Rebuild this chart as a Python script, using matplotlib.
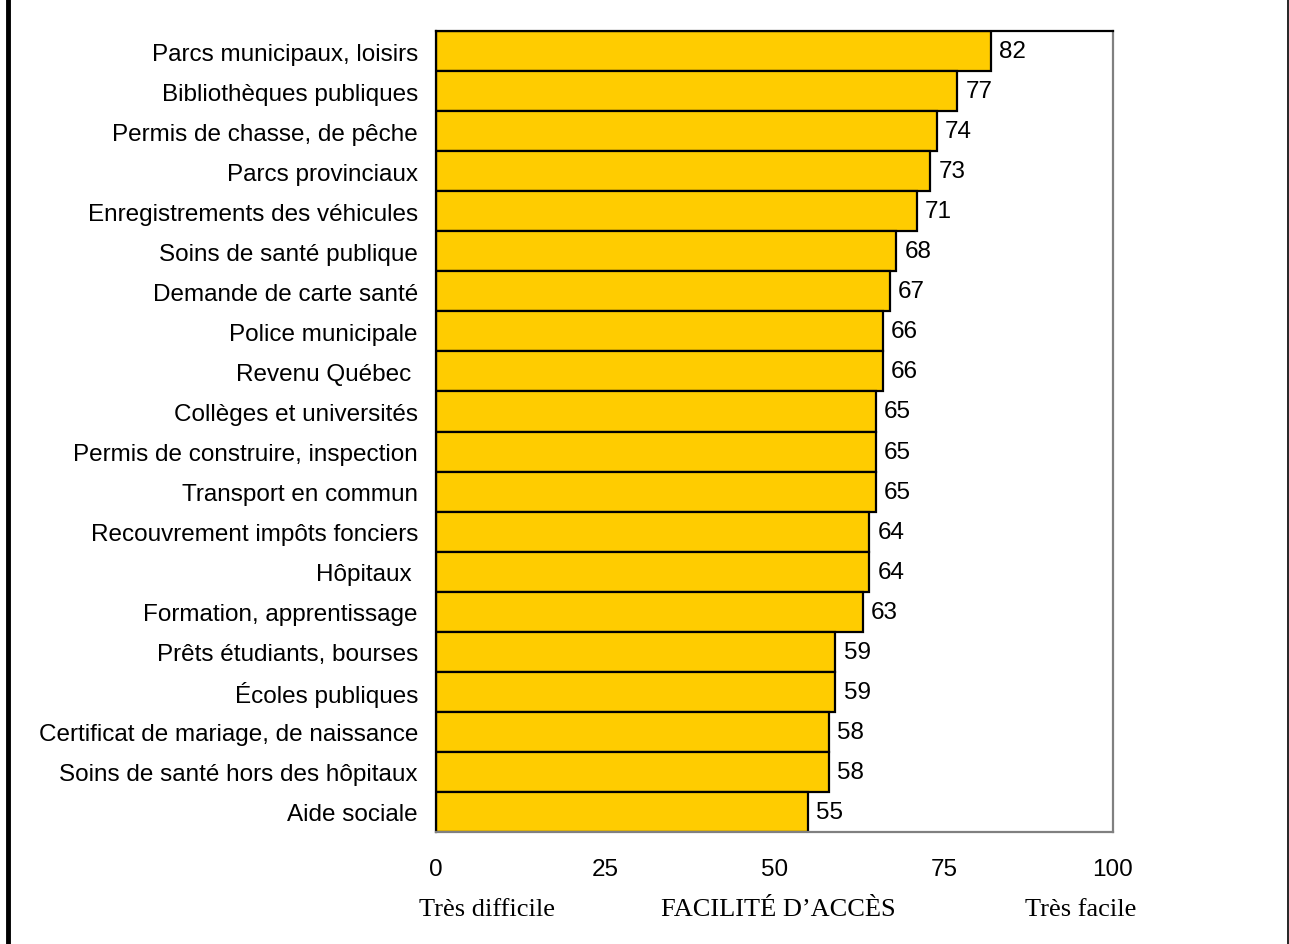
import matplotlib
matplotlib.use("Agg")
import matplotlib.pyplot as plt
from matplotlib.lines import Line2D

# services, listed top to bottom, with their accessibility score (0-100)
services = [
    "Parcs municipaux, loisirs",
    "Bibliothèques publiques",
    "Permis de chasse, de pêche",
    "Parcs provinciaux",
    "Enregistrements des véhicules",
    "Soins de santé publique",
    "Demande de carte santé",
    "Police municipale",
    "Revenu Québec ",
    "Collèges et universités",
    "Permis de construire, inspection",
    "Transport en commun",
    "Recouvrement impôts fonciers",
    "Hôpitaux ",
    "Formation, apprentissage",
    "Prêts étudiants, bourses",
    "Écoles publiques",
    "Certificat de mariage, de naissance",
    "Soins de santé hors des hôpitaux",
    "Aide sociale",
]
scores = [82, 77, 74, 73, 71, 68, 67, 66, 66, 65, 65, 65, 64, 64, 63, 59, 59, 58, 58, 55]
xticks = [0, 25, 50, 75, 100]

W, H = 1289, 945
fig = plt.figure(figsize=(W / 100, H / 100), dpi=100)
ax = fig.add_axes([436 / W, 1 - 833 / H, (1113 - 436) / W, (833 - 32) / H])

ypos = list(range(len(services)))
ax.barh(ypos, scores, height=1.0, color="#FFCC00", edgecolor="black", linewidth=1.6)
for y, v in zip(ypos, scores):
    ax.text(v + 1.2, y, str(v), va="center", ha="left", fontsize=17.5,
            family="Liberation Sans")

ax.set_xlim(0, 100)
ax.set_ylim(len(services) - 0.5, -0.5)
ax.set_yticks(ypos)
ax.set_yticklabels(services, family="Liberation Sans", fontsize=17.5)
ax.set_xticks(xticks)
ax.set_xticklabels([str(t) for t in xticks], family="Liberation Sans", fontsize=17.5)
ax.tick_params(axis="both", length=0)
ax.tick_params(axis="y", pad=13)
ax.tick_params(axis="x", pad=19)

ax.spines["top"].set_color("black")
ax.spines["left"].set_color("black")
ax.spines["right"].set_color("#808080")
ax.spines["bottom"].set_color("#808080")
for s in ax.spines.values():
    s.set_linewidth(1.6)

# scale end labels under the axis
ylab = 1 - 910 / H
fig.text(487 / W, ylab, "Très difficile", ha="center", va="center",
         family="Liberation Serif", fontsize=19)
fig.text(778 / W, ylab, "FACILITÉ D\u2019ACCÈS", ha="center", va="center",
         family="Liberation Serif", fontsize=19)
fig.text(1081 / W, ylab, "Très facile", ha="center", va="center",
         family="Liberation Serif", fontsize=19)

# page frame: heavy rule on the left, thin rule on the right
fig.add_artist(Line2D([7.5 / W, 7.5 / W], [0, 1], color="black", linewidth=3.5,
                      transform=fig.transFigure))
fig.add_artist(Line2D([1287.5 / W, 1287.5 / W], [0, 1], color="black", linewidth=1.2,
                      transform=fig.transFigure))

fig.savefig("out.png", dpi=100)
